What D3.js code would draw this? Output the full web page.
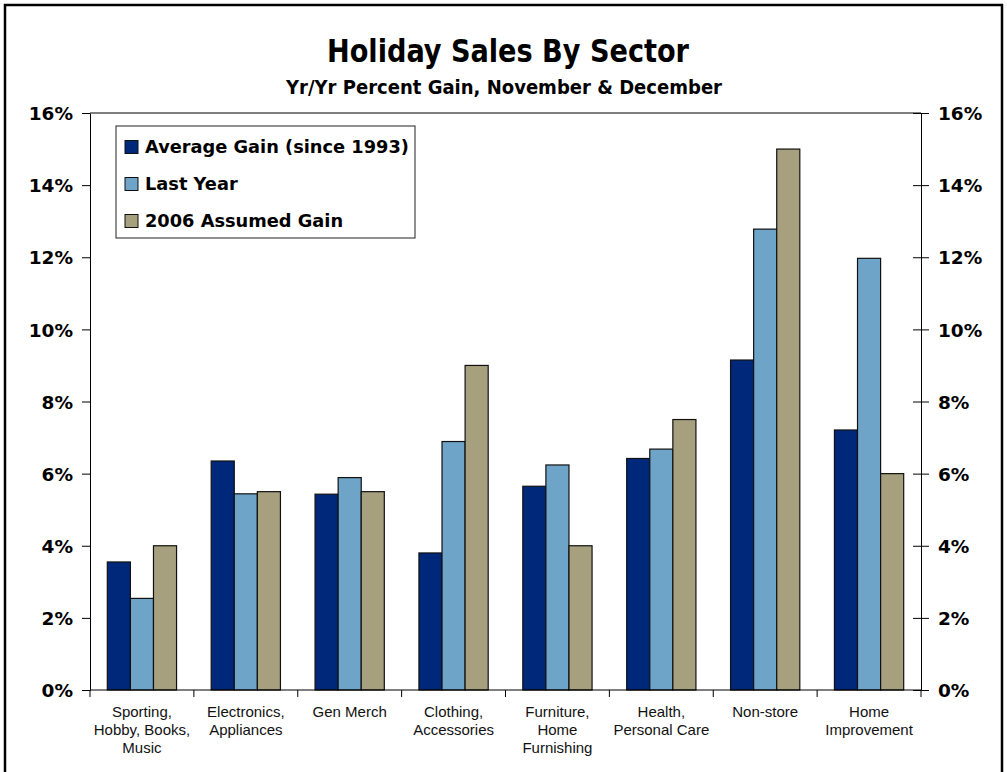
<!DOCTYPE html>
<html>
<head>
<meta charset="utf-8">
<script src="https://cdn.jsdelivr.net/npm/d3@7"></script>
<style>
  html, body { margin: 0; padding: 0; background: #fff; }
  svg { display: block; }
</style>
</head>
<body>
<svg id="chart" width="1007" height="772"></svg>
<script>
// Sectors and yr/yr gains (%), November & December
const categories = [
  ["Sporting,", "Hobby, Books,", "Music"],
  ["Electronics,", "Appliances"],
  ["Gen Merch"],
  ["Clothing,", "Accessories"],
  ["Furniture,", "Home", "Furnishing"],
  ["Health,", "Personal Care"],
  ["Non-store"],
  ["Home", "Improvement"]
];
const seriesNames = ["Average Gain (since 1993)", "Last Year", "2006 Assumed Gain"];
const averageGain = [3.55, 6.35, 5.43, 3.8, 5.65, 6.42, 9.15, 7.21];
const lastYear    = [2.54, 5.44, 5.89, 6.89, 6.24, 6.68, 12.78, 11.97];
const assumed2006 = [4.0, 5.5, 5.5, 9.0, 4.0, 7.5, 15.0, 6.0];
const yTicks = [0, 2, 4, 6, 8, 10, 12, 14, 16];
const colors = ["#00287a", "#6ea4c8", "#a6a07e"];

const series = [averageGain, lastYear, assumed2006];
const svg = d3.select("#chart");
const W = 1007, H = 772;
const m = { left: 90, right: 1007 - 921, top: 113, bottom: 772 - 690 };
const pw = W - m.left - m.right, ph = H - m.top - m.bottom;

// outer frame
svg.append("rect").attr("x", 5).attr("y", 5).attr("width", 997).attr("height", 800)
  .attr("fill", "none").attr("stroke", "#000").attr("stroke-width", 2.5);

const condensed = "'Liberation Sans Narrow', 'DejaVu Sans Condensed', 'Arial Narrow', sans-serif";
svg.append("text").attr("x", 508).attr("y", 62).attr("text-anchor", "middle")
  .attr("font-family", condensed).attr("font-weight", "bold").attr("font-size", 32)
  .attr("textLength", 362).attr("lengthAdjust", "spacingAndGlyphs")
  .text("Holiday Sales By Sector");
svg.append("text").attr("x", 504).attr("y", 94).attr("text-anchor", "middle")
  .attr("font-family", condensed).attr("font-weight", "bold").attr("font-size", 20)
  .attr("textLength", 436).attr("lengthAdjust", "spacingAndGlyphs")
  .text("Yr/Yr Percent Gain, November & December");

const g = svg.append("g").attr("transform", `translate(${m.left},${m.top})`);

const x0 = d3.scaleBand().domain(d3.range(categories.length)).range([0, pw])
  .paddingInner(1 / 3).paddingOuter(1 / 6);
const x1 = d3.scaleBand().domain(d3.range(series.length)).range([0, x0.bandwidth()]);
const y = d3.scaleLinear().domain([0, 16]).range([ph, 0]);

// plot frame top line
g.append("line").attr("x1", 0).attr("x2", pw).attr("y1", 0).attr("y2", 0)
  .attr("stroke", "#000").attr("stroke-width", 1);

// bars
const groups = g.selectAll("g.grp").data(categories).join("g")
  .attr("transform", (d, i) => `translate(${x0(i)},0)`);
groups.selectAll("rect").data((d, i) => series.map((s, j) => ({ j, v: s[i] }))).join("rect")
  .attr("x", d => x1(d.j))
  .attr("y", d => y(d.v))
  .attr("width", x1.bandwidth())
  .attr("height", d => ph - y(d.v))
  .attr("fill", d => colors[d.j])
  .attr("stroke", "#111").attr("stroke-width", 1.2);

const tickFont = "'DejaVu Sans', Verdana, sans-serif";
// left axis
const yl = g.append("g").call(d3.axisLeft(y).tickValues(yTicks).tickFormat(d => d + "%").tickSize(8).tickSizeOuter(0));
// right axis with crossing ticks
const yr = g.append("g").attr("transform", `translate(${pw},0)`)
  .call(d3.axisRight(y).tickValues(yTicks).tickFormat(d => d + "%").tickSize(8).tickSizeOuter(0));
yr.selectAll(".tick line").attr("x1", -8);
[yl, yr].forEach(a => {
  a.select(".domain").attr("stroke", "#000");
  a.selectAll(".tick line").attr("stroke", "#000");
  a.selectAll(".tick text").attr("font-family", tickFont).attr("font-weight", "bold")
    .attr("font-size", 18.5).attr("fill", "#000");
});
yl.selectAll(".tick text").attr("x", -17).attr("dy", "0.36em");
yr.selectAll(".tick text").attr("x", 17).attr("dy", "0.36em");

// bottom axis: ticks at category boundaries
const xa = g.append("g").attr("transform", `translate(0,${ph})`);
xa.append("line").attr("x1", 0).attr("x2", pw).attr("stroke", "#000");
const step = x0.step();
xa.selectAll("line.tk").data(d3.range(categories.length + 1)).join("line").attr("class", "tk")
  .attr("x1", i => i * step).attr("x2", i => i * step).attr("y1", 0).attr("y2", 7)
  .attr("stroke", "#000");
xa.selectAll("text.cat").data(categories).join("text").attr("class", "cat")
  .attr("text-anchor", "middle").attr("font-family", "'Liberation Sans', Arial, sans-serif")
  .attr("font-size", 15).attr("fill", "#111")
  .attr("transform", (d, i) => `translate(${x0(i) + x0.bandwidth() / 2},0)`)
  .each(function (lines) {
    d3.select(this).selectAll("tspan").data(lines).join("tspan")
      .attr("x", 0).attr("y", (d, k) => 27 + k * 18).text(d => d);
  });

// legend
const lg = svg.append("g").attr("transform", "translate(116,126)");
lg.append("rect").attr("width", 299).attr("height", 112).attr("fill", "#fff")
  .attr("stroke", "#222").attr("stroke-width", 1);
seriesNames.forEach((name, i) => {
  const cy = 21 + i * 37;
  lg.append("rect").attr("x", 9).attr("y", cy - 6.5).attr("width", 13).attr("height", 13)
    .attr("fill", colors[i]).attr("stroke", "#111").attr("stroke-width", 1);
  lg.append("text").attr("x", 29).attr("y", cy).attr("dy", "0.36em")
    .attr("font-family", tickFont).attr("font-weight", "bold").attr("font-size", 17.8)
    .attr("fill", "#000").text(name);
});
</script>
</body>
</html>
